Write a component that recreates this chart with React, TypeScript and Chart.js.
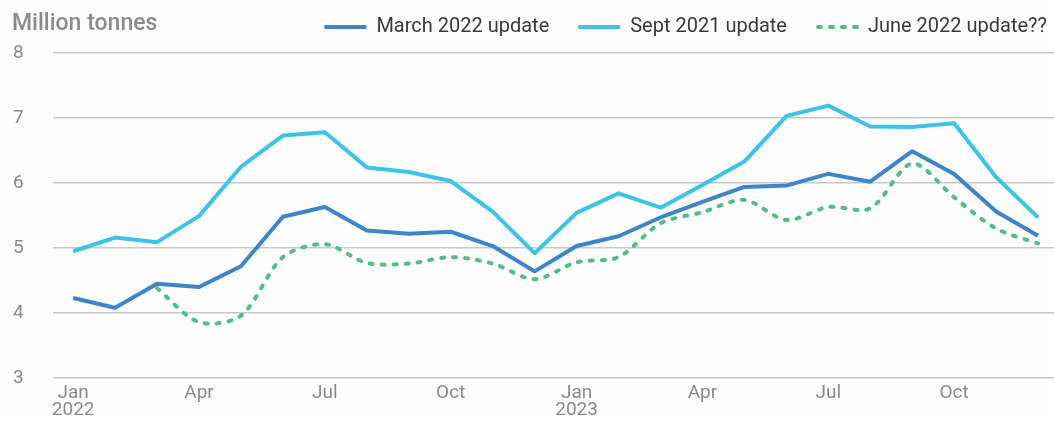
import { useEffect, useRef } from "react";
import { Chart, registerables } from "chart.js";

Chart.register(...registerables);

const months = [
  "Jan 2022", "Feb 2022", "Mar 2022", "Apr 2022", "May 2022", "Jun 2022",
  "Jul 2022", "Aug 2022", "Sep 2022", "Oct 2022", "Nov 2022", "Dec 2022",
  "Jan 2023", "Feb 2023", "Mar 2023", "Apr 2023", "May 2023", "Jun 2023",
  "Jul 2023", "Aug 2023", "Sep 2023", "Oct 2023", "Nov 2023", "Dec 2023",
];

const march2022 = [4.23, 4.08, 4.45, 4.4, 4.72, 5.48, 5.63, 5.27, 5.22, 5.25, 5.03, 4.64,
  5.03, 5.18, 5.47, 5.71, 5.94, 5.96, 6.14, 6.02, 6.49, 6.14, 5.56, 5.19];
const sept2021 = [4.95, 5.16, 5.09, 5.49, 6.25, 6.73, 6.78, 6.24, 6.17, 6.03, 5.56, 4.92,
  5.54, 5.84, 5.62, 5.97, 6.33, 7.03, 7.19, 6.87, 6.86, 6.92, 6.09, 5.47];
const june2022 = [null, null, 4.38, 3.86, 3.96, 4.86, 5.06, 4.77, 4.76, 4.86, 4.76, 4.52,
  4.78, 4.86, 5.38, 5.55, 5.74, 5.43, 5.63, 5.61, 6.3, 5.78, 5.3, 5.07];

const seriesNames = ["March 2022 update", "Sept 2021 update", "June 2022 update??"];
const seriesColors = ["#3d85c8", "#3ec3e8", "#52bd86"];

const yTicks = [3, 4, 5, 6, 7, 8];
const xTickPositions = [0, 3, 6, 9, 12, 15, 18, 21];
const xTickLabels: string[][] = [["Jan", "2022"], ["Apr"], ["Jul"], ["Oct"], ["Jan", "2023"], ["Apr"], ["Jul"], ["Oct"]];
const yAxisTitle = "Million tonnes";

const FONT = "Roboto, 'Noto Sans', sans-serif";
const GRAY = "#8a8a8a";

const toPoints = (arr: (number | null)[]) => arr.map((v, i) => ({ x: i, y: v, label: months[i] }));

const overlayPlugin = {
  id: "overlay",
  afterDraw(chart: any) {
    const ctx = chart.ctx as CanvasRenderingContext2D;
    ctx.save();
    // axis title
    ctx.font = `500 23px ${FONT}`;
    ctx.fillStyle = GRAY;
    ctx.textAlign = "left";
    ctx.textBaseline = "middle";
    ctx.fillText(yAxisTitle, 12, 24);
    // legend
    ctx.font = `400 20px ${FONT}`;
    const sample = 42;
    const gapText = 10;
    const gapItem = 29;
    const widths = seriesNames.map((n) => ctx.measureText(n).width);
    let total = 0;
    widths.forEach((w, i) => {
      total += sample + gapText + w + (i < widths.length - 1 ? gapItem : 0);
    });
    let x = 1047 - total;
    const cy = 27;
    chart.data.datasets.forEach((ds: any, i: number) => {
      ctx.beginPath();
      ctx.strokeStyle = ds.borderColor;
      ctx.lineWidth = 4;
      ctx.lineCap = ds.borderCapStyle || "butt";
      ctx.setLineDash(ds.borderDash || []);
      const x0 = x + (ds.borderDash ? 2 : 0);
      ctx.moveTo(x0, cy);
      ctx.lineTo(x + sample, cy);
      ctx.stroke();
      ctx.setLineDash([]);
      ctx.fillStyle = "#3a3a3a";
      ctx.textBaseline = "middle";
      ctx.fillText(ds.label, x + sample + gapText, cy);
      x += sample + gapText + widths[i] + gapItem;
    });
    ctx.restore();
  },
};

export default function App() {
  const ref = useRef<HTMLCanvasElement | null>(null);
  useEffect(() => {
    document.body.style.margin = "0";
    document.body.style.background = "#fdfdfe";
    const chart = new Chart(ref.current as HTMLCanvasElement, {
      type: "line",
      data: {
        datasets: [
          {
            label: seriesNames[0],
            data: toPoints(march2022),
            borderColor: seriesColors[0],
            backgroundColor: seriesColors[0],
            borderWidth: 4,
            pointRadius: 0,
            tension: 0,
            borderJoinStyle: "round",
          },
          {
            label: seriesNames[1],
            data: toPoints(sept2021),
            borderColor: seriesColors[1],
            backgroundColor: seriesColors[1],
            borderWidth: 4,
            pointRadius: 0,
            tension: 0,
            borderJoinStyle: "round",
          },
          {
            label: seriesNames[2],
            data: toPoints(june2022),
            borderColor: seriesColors[2],
            backgroundColor: seriesColors[2],
            borderWidth: 4,
            borderDash: [3, 9],
            borderCapStyle: "round",
            pointRadius: 0,
            tension: 0.3,
            spanGaps: false,
          },
        ],
      } as any,
      options: {
        animation: false,
        responsive: false,
        maintainAspectRatio: false,
        layout: { padding: { top: 53, left: 13, right: 0, bottom: 0 } },
        plugins: { legend: { display: false }, tooltip: { enabled: false }, title: { display: false } },
        scales: {
          x: {
            type: "linear",
            min: -0.48,
            max: 23.38,
            grid: { display: false, drawTicks: false },
            border: { display: false },
            afterFit(scale: any) {
              scale.height = 43;
            },
            afterBuildTicks(scale: any) {
              scale.ticks = xTickPositions.map((v) => ({ value: v }));
            },
            ticks: {
              padding: 7,
              maxRotation: 0,
              autoSkip: false,
              color: GRAY,
              font: { family: FONT, size: 19, lineHeight: 0.9 },
              callback: (v: any) => {
                const idx = xTickPositions.indexOf(Number(v));
                return idx >= 0 ? xTickLabels[idx] : "";
              },
            },
          },
          y: {
            min: 3,
            max: 8,
            afterFit(scale: any) {
              scale.width = 40;
            },
            afterBuildTicks(scale: any) {
              scale.ticks = yTicks.map((v) => ({ value: v }));
            },
            grid: { color: "#c8c8c8", lineWidth: 1.5, drawTicks: false },
            border: { display: false },
            ticks: {
              crossAlign: "far",
              padding: 0,
              color: GRAY,
              font: { family: FONT, size: 19 },
            },
          },
        },
      } as any,
      plugins: [overlayPlugin],
    });
    return () => chart.destroy();
  }, []);
  return (
    <div style={{ position: "fixed", left: 0, top: 0, width: 1054, height: 421 }}>
      <canvas ref={ref} width={1054} height={421} style={{ width: 1054, height: 421, display: "block" }} />
    </div>
  );
}
